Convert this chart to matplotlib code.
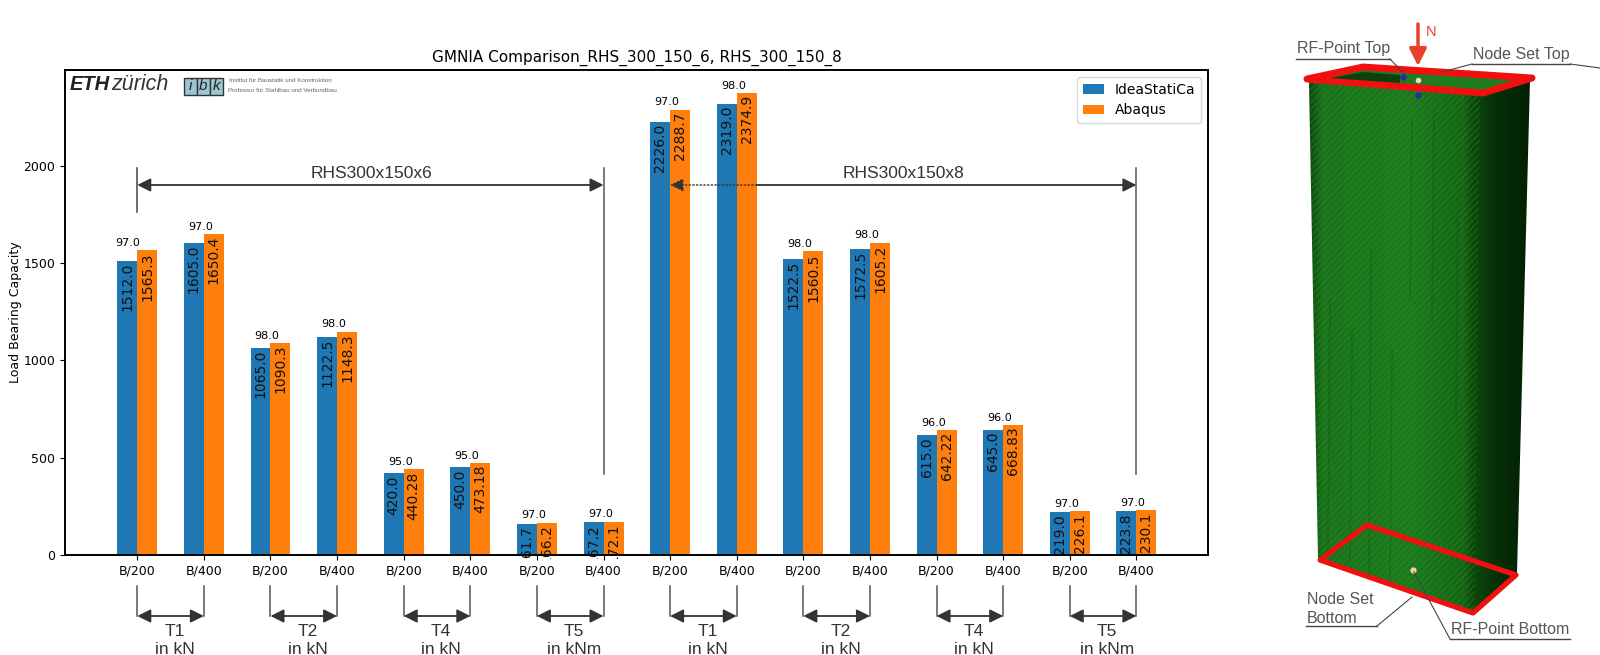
import numpy as np
from matplotlib import pyplot as plt
from matplotlib.colors import LinearSegmentedColormap
from matplotlib.patches import Polygon, Rectangle
from matplotlib.transforms import Bbox, TransformedBbox

# Chart data
tick_labels = ['B/200', 'B/400'] * 8
idea_values = [1512.0, 1605.0, 1065.0, 1122.5, 420.0, 450.0, 161.7, 167.2,
               2226.0, 2319.0, 1522.5, 1572.5, 615.0, 645.0, 219.0, 223.8]
abaqus_values = [1565.3, 1650.4, 1090.3, 1148.3, 440.28, 473.18, 166.2, 172.1,
                 2288.7, 2374.9, 1560.5, 1605.2, 642.22, 668.83, 226.1, 230.1]
percent_values = [97.0, 97.0, 98.0, 98.0, 95.0, 95.0, 97.0, 97.0,
                  97.0, 98.0, 98.0, 98.0, 96.0, 96.0, 97.0, 97.0]
group_names = ['T1\nin kN', 'T2\nin kN', 'T4\nin kN', 'T5\nin kNm'] * 2

W, H = 1600, 655
GREY = '#333333'
ANNOT_FONT = 'Liberation Sans'

fig = plt.figure(figsize=(W / 100, H / 100), dpi=100)
ax = fig.add_axes([65 / W, 1 - 555 / H, 1143 / W, 485 / H])

x = np.arange(len(tick_labels))
width = 0.3
bars1 = ax.bar(x - width / 2, idea_values, width, label='IdeaStatiCa', color='#1f77b4')
bars2 = ax.bar(x + width / 2, abaqus_values, width, label='Abaqus', color='#ff7f0e')

# Value labels run slightly under the axis line, then get cut off
label_clip = TransformedBbox(Bbox([[0, -0.008], [1, 1]]), ax.transAxes)
for bars, values in ((bars1, idea_values), (bars2, abaqus_values)):
    for b, label in zip(bars, values):
        t = ax.text(b.get_x() + b.get_width() / 2, b.get_height() - 10, str(label),
                    rotation=90, ha='center', va='top', fontsize=10, color='#111111')
        t.set_clip_box(label_clip)
        t.set_clip_on(True)

for i, pct in enumerate(percent_values):
    shift = -0.15 if i == 0 else -0.05
    ax.text(x[i] + shift, abaqus_values[i] + 12, str(pct), ha='center', va='bottom', fontsize=8)

ax.set_xticks(x)
ax.set_xticklabels(tick_labels, fontsize=9)
ax.tick_params(axis='y', labelsize=9)
ax.set_yticks([0, 500, 1000, 1500, 2000])
ax.set_xlim(-1.085, 16.075)
ax.set_ylim(0, 2493)
ax.set_ylabel('Load Bearing Capacity', fontsize=9, labelpad=1)
ax.set_title('GMNIA Comparison_RHS_300_150_6, RHS_300_150_8', fontsize=11, pad=6)
ax.legend(loc='upper right', fontsize=10, handlelength=1.5)
for s in ax.spines.values():
    s.set_linewidth(1.4)

# Overlay in pixel coordinates for the hand drawn notes, logo and the column picture
ov = fig.add_axes([0, 0, 1, 1], zorder=5)
ov.patch.set_alpha(0)


def dbl_arrow(x0, x1, y, style='<|-|>', lw=1.3, scale=20):
    ov.annotate('', xy=(x1, y), xytext=(x0, y),
                arrowprops=dict(arrowstyle=style, color=GREY, lw=lw, mutation_scale=scale,
                                shrinkA=0, shrinkB=0))


tick_px = [ax.transData.transform((v, 0))[0] for v in x]

# Column picture
outline = [(1309, 82), (1480, 93), (1530, 80), (1517, 573), (1475, 612), (1318, 558)]
column_cmap = LinearSegmentedColormap.from_list(
    'column', [(0.0, '#0c480c'), (0.06, '#1a721a'), (0.45, '#1c7a1c'), (0.7, '#166416'),
               (0.74, '#0d4a0d'), (0.85, '#062f06'), (1.0, '#031f03')])
grad = np.linspace(0, 1, 256).reshape(1, -1)
im = ov.imshow(grad, extent=(1309, 1530, 612, 80), cmap=column_cmap, aspect='auto', zorder=1)
clip = Polygon(outline, closed=True, transform=ov.transData, fc='none', ec='none')
ov.add_patch(clip)
im.set_clip_path(clip)
ov.add_patch(Polygon(outline[:2] + [(1475, 612), (1318, 558)], closed=True, fc='none',
                     ec='#35a035', lw=0, hatch='/////', alpha=0.3, zorder=1.2))
ov.set_xlim(0, W)
ov.set_ylim(H, 0)
ov.axis('off')

# Dark buckling streaks on the front face
for sx, y0, y1 in [(1330, 300, 555), (1352, 330, 560), (1371, 250, 575), (1392, 350, 585),
                   (1412, 120, 300), (1434, 110, 320), (1458, 200, 420)]:
    ov.plot([sx, sx - 2], [y0, y1], color='#0c4a0c', lw=1.2, alpha=0.25, zorder=1.3)

ov.add_patch(Polygon([(1307, 79), (1363, 67), (1532, 78), (1483, 93)], closed=True,
                     fc='#1f7d1f', ec='#f01010', lw=5, joinstyle='round', zorder=3))
ov.add_patch(Polygon([(1330, 78), (1363, 72), (1400, 75), (1400, 83)], closed=True,
                     fc='#0c400c', ec='none', zorder=3.1))
ov.add_patch(Polygon([(1320, 560), (1367, 525), (1516, 575), (1473, 613)], closed=True,
                     fc='none', ec='#f01010', lw=3.8, joinstyle='round', zorder=3))

# Brackets under the ticks
for k, name in enumerate(group_names):
    x0, x1 = tick_px[2 * k], tick_px[2 * k + 1]
    ov.plot([x0, x0], [586, 616], color='#555555', lw=1.1)
    ov.plot([x1, x1], [586, 616], color='#555555', lw=1.1)
    dbl_arrow(x0, x1, 616)
    top, bottom = name.split('\n')
    ov.text((x0 + x1) / 2 + 4, 632, top, ha='center', va='center', fontsize=12.5,
            family=ANNOT_FONT, color=GREY)
    ov.text((x0 + x1) / 2 + 4, 650, bottom, ha='center', va='center', fontsize=12.5,
            family=ANNOT_FONT, color=GREY)

# RHS span arrows
ov.plot([tick_px[0]] * 2, [168, 212], color='#444444', lw=1.1)
ov.plot([tick_px[7]] * 2, [168, 474], color='#555555', lw=1.1)
ov.plot([tick_px[15]] * 2, [168, 474], color='#555555', lw=1.1)
dbl_arrow(tick_px[0], tick_px[7], 185)
dbl_arrow(tick_px[9] + 20, tick_px[15], 185, style='-|>')
ov.annotate('', xy=(tick_px[8], 185), xytext=(tick_px[9] + 20, 185),
            arrowprops=dict(arrowstyle='-|>', color=GREY, lw=1.0, ls=':', mutation_scale=20,
                            shrinkA=0, shrinkB=0))
ov.text(371, 173, 'RHS300x150x6', ha='center', va='center', fontsize=12.5, family=ANNOT_FONT, color=GREY)
ov.text(904, 174, 'RHS300x150x8', ha='center', va='center', fontsize=12.5, family=ANNOT_FONT, color=GREY)

# Logo
ov.text(70, 84, 'ETH', fontsize=14.5, fontweight='bold', style='italic', family='Liberation Sans',
        color='#222222', va='center')
ov.text(111, 84, 'zürich', fontsize=15.5, style='italic', family='Liberation Sans', color='#333333', va='center')
for i, letter in enumerate('ibk'):
    ov.add_patch(Rectangle((184 + i * 13, 78), 13, 17, fc='#9cc7d2', ec='#333333', lw=1))
    ov.text(190.5 + i * 13, 86, letter, fontsize=11, style='italic', ha='center', va='center',
            family='Liberation Sans', color='#222222')
ov.text(229, 80, 'Institut für Baustatik und Konstruktion', fontsize=4.5, color='#666666', va='center',
        family='Liberation Sans')
ov.text(228, 90, 'Professur für Stahlbau und Verbundbau', fontsize=4.5, color='#666666', va='center',
        family='Liberation Sans')

# Load arrow and markers
ov.annotate('', xy=(1418, 66), xytext=(1418, 24),
            arrowprops=dict(arrowstyle='-|>', color='#e8402a', lw=2.5, mutation_scale=26, shrinkA=0, shrinkB=0),
            zorder=4)
ov.text(1431, 32, 'N', fontsize=10.5, color='#e8402a', ha='center', va='center', family=ANNOT_FONT)
ov.plot([1418], [80], 'o', ms=3, color='#ffd0c0', zorder=4)
ov.plot([1403, 1418], [77, 95], 'o', ms=3.5, color='#2030a0', zorder=4, ls='none')
ov.plot([1413], [570], 'o', ms=3.5, color='#ffc8a8', zorder=4)


def note(text, xt, yt, xl0, xl1, yl, tail):
    ov.text(xt, yt, text, fontsize=11.5, color='#555555', va='center', family=ANNOT_FONT,
            linespacing=1.3, zorder=4)
    ov.plot([xl0, xl1], [yl, yl], color='#444444', lw=1, zorder=4)
    ov.plot(*zip(*tail), color='#444444', lw=0.8, zorder=4)


note('RF-Point Top', 1297, 49, 1296, 1390, 59, [(1390, 59), (1408, 78)])
note('Node Set Top', 1473, 54, 1472, 1570, 64, [(1570, 64), (1600, 68)])
ov.plot([1472, 1442], [64, 72], color='#444444', lw=0.8, zorder=4)
note('Node Set\nBottom', 1307, 609, 1306, 1377, 626, [(1377, 626), (1412, 597)])
note('RF-Point Bottom', 1451, 629, 1450, 1570, 639, [(1450, 639), (1414, 572)])

plt.savefig('out.png', dpi=100)
